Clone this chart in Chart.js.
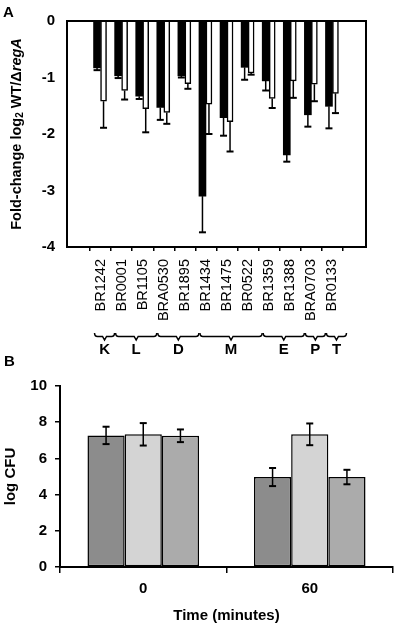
<!DOCTYPE html>
<html>
<head>
<meta charset="utf-8">
<script src="https://cdn.jsdelivr.net/npm/chart.js@4.4.1/dist/chart.umd.min.js"></script>
<style>
  body { margin: 0; background: #fff; }
  canvas { position: absolute; left: 0; }
</style>
</head>
<body>
<canvas id="chartA" width="397" height="360" style="top:0"></canvas>
<canvas id="chartB" width="397" height="281" style="top:345px"></canvas>
<script>
// Panel A - fold change per gene
var genes = ["BR1242","BR0001","BR1105","BRA0530","BR1895","BR1434","BR1475","BR0522","BR1359","BR1388","BRA0703","BR0133"];
var blackVals = [-0.83,-0.97,-1.33,-1.53,-0.97,-3.10,-1.71,-0.82,-1.06,-2.37,-1.66,-1.51];
var blackErr  = [0.04,0.04,0.05,0.22,0.03,0.64,0.32,0.22,0.17,0.12,0.21,0.39];
var whiteVals = [-1.42,-1.23,-1.55,-1.62,-1.11,-1.47,-1.78,-0.92,-1.37,-1.06,-1.12,-1.28];
var whiteErr  = [0.47,0.16,0.42,0.20,0.09,0.53,0.53,0.03,0.17,0.30,0.30,0.35];
var groupNames = ["K","L","D","M","E","P","T"];
var groupSizes = [1,2,2,3,2,1,1];

// Panel B - log CFU over time
var timeLabels = ["0","60"];
var cfuDark  = [7.27,4.97];
var errDark  = [0.48,0.50];
var cfuLight = [7.33,7.33];
var errLight = [0.62,0.60];
var cfuMid   = [7.25,4.97];
var errMid   = [0.35,0.40];

Chart.defaults.font.family = "'Liberation Sans', Arial, sans-serif";
Chart.defaults.color = "#000";

function toPoints(vals) {
	return vals.map(function(v, i) { return { x: i + 1, y: v }; });
}

// error bars, "down" only for panel A, both ways for panel B
var errorBars = {
	id: "errorBars",
	afterDatasetsDraw: function(chart) {
		var ctx = chart.ctx;
		var yScale = chart.scales.y;
		ctx.save();
		ctx.strokeStyle = "#000";
		chart.data.datasets.forEach(function(ds, di) {
			if (!ds.errors) return;
			var meta = chart.getDatasetMeta(di);
			meta.data.forEach(function(bar, i) {
				var raw = ds.data[i];
				var v = (typeof raw === "object") ? raw.y : raw;
				var e = ds.errors[i];
				var cap = ds.capWidth || 7;
				var ends = ds.errDown ? [v - e] : [v - e, v + e];
				ctx.lineWidth = 1.5;
				ctx.beginPath();
				var yLow = yScale.getPixelForValue(Math.min.apply(null, ends));
				var yHigh = ds.errDown ? bar.y : yScale.getPixelForValue(Math.max.apply(null, ends));
				ctx.moveTo(bar.x, yHigh);
				ctx.lineTo(bar.x, yLow);
				ctx.stroke();
				ctx.lineWidth = 2;
				ends.forEach(function(ev) {
					var py = yScale.getPixelForValue(ev);
					ctx.beginPath();
					ctx.moveTo(bar.x - cap / 2, py);
					ctx.lineTo(bar.x + cap / 2, py);
					ctx.stroke();
				});
			});
		});
		ctx.restore();
	}
};

// frame, y title, group braces and panel letter for A
var panelAExtras = {
	id: "panelAExtras",
	afterDraw: function(chart) {
		var ctx = chart.ctx;
		var a = chart.chartArea;
		var xs = chart.scales.x;
		ctx.save();
		ctx.strokeStyle = "#000";
		ctx.lineWidth = 2;
		ctx.strokeRect(a.left, a.top, a.right - a.left, a.bottom - a.top);

		// panel letter
		ctx.fillStyle = "#000";
		ctx.font = "bold 15px 'Liberation Sans', Arial, sans-serif";
		ctx.textAlign = "left";
		ctx.textBaseline = "middle";
		ctx.fillText("A", 3, 13);

		// y title with subscript and italic
		var parts = [
			{ t: "Fold-change log", f: "bold 14.5px", dy: 0 },
			{ t: "2", f: "bold 10px", dy: 3 },
			{ t: " WT/\u0394", f: "bold 14.5px", dy: 0 },
			{ t: "regA", f: "italic bold 14.5px", dy: 0 }
		];
		var fam = " 'Liberation Sans', Arial, sans-serif";
		var total = 0;
		parts.forEach(function(p) { ctx.font = p.f + fam; p.w = ctx.measureText(p.t).width; total += p.w; });
		ctx.translate(17, (a.top + a.bottom) / 2);
		ctx.rotate(-Math.PI / 2);
		var cx = -total / 2;
		parts.forEach(function(p) {
			ctx.font = p.f + fam;
			ctx.fillText(p.t, cx, p.dy);
			cx += p.w;
		});
		ctx.setTransform(1, 0, 0, 1, 0, 0);

		// group braces
		ctx.lineWidth = 1.5;
		ctx.font = "bold 15px 'Liberation Sans', Arial, sans-serif";
		ctx.textAlign = "center";
		var start = 0;
		groupNames.forEach(function(name, g) {
			var first = start, last = start + groupSizes[g] - 1;
			start += groupSizes[g];
			var x1 = xs.getPixelForValue(first + 1) - 6;
			var x2 = xs.getPixelForValue(last + 1) + 14;
			var mid = (x1 + x2) / 2;
			var yTop = 333, yLine = 336.5, yTip = 340;
			ctx.beginPath();
			ctx.moveTo(x1, yTop);
			ctx.quadraticCurveTo(x1, yLine, x1 + 3, yLine);
			ctx.lineTo(mid - 2, yLine);
			ctx.lineTo(mid, yTip);
			ctx.lineTo(mid + 2, yLine);
			ctx.lineTo(x2 - 3, yLine);
			ctx.quadraticCurveTo(x2, yLine, x2, yTop);
			ctx.stroke();
			ctx.fillText(name, mid, 350);
		});
		ctx.restore();
	}
};

var panelBExtras = {
	id: "panelBExtras",
	afterDraw: function(chart) {
		var ctx = chart.ctx;
		ctx.save();
		ctx.fillStyle = "#000";
		ctx.font = "bold 15px 'Liberation Sans', Arial, sans-serif";
		ctx.textAlign = "left";
		ctx.textBaseline = "middle";
		ctx.fillText("B", 4, 17);
		ctx.restore();
	}
};

var chartA = new Chart(document.getElementById("chartA"), {
	type: "bar",
	data: {
		datasets: [
			{
				label: "black",
				data: toPoints(blackVals),
				errors: blackErr,
				errDown: true,
				backgroundColor: "#000",
				borderWidth: 0,
				barThickness: 7
			},
			{
				label: "white",
				data: toPoints(whiteVals),
				errors: whiteErr,
				errDown: true,
				backgroundColor: "#fff",
				borderColor: "#000",
				borderWidth: 1.5,
				barThickness: 6
			}
		]
	},
	options: {
		responsive: false,
		animation: false,
		layout: { padding: { top: 10, right: 31, left: 0, bottom: 0 } },
		plugins: { legend: { display: false }, tooltip: { enabled: false } },
		scales: {
			x: {
				type: "linear",
				min: 0,
				max: 13,
				afterBuildTicks: function(s) {
					s.ticks = s.ticks.filter(function(t) { return t.value >= 1 && t.value <= 12; });
				},
				afterFit: function(s) {
					s.height = 113;
					s.paddingLeft = 0;
					s.paddingRight = 0;
				},
				ticks: {
					stepSize: 1,
					autoSkip: false,
					minRotation: 90,
					maxRotation: 90,
					padding: 8,
					font: { size: 14.5 },
					callback: function(v) { return genes[v - 1] || ""; }
				},
				grid: { display: true, drawOnChartArea: false, tickLength: 4, color: "#000", lineWidth: 1.5 },
				border: { display: true, color: "#000", width: 2 }
			},
			y: {
				min: -4,
				max: 0,
				afterFit: function(s) { s.width = 67; },
				ticks: { stepSize: 1, padding: 12, font: { size: 15, weight: "bold" } },
				grid: { display: false, drawTicks: false },
				border: { display: true, color: "#000", width: 2 }
			}
		}
	},
	plugins: [errorBars, panelAExtras]
});

var chartB = new Chart(document.getElementById("chartB"), {
	type: "bar",
	data: {
		labels: timeLabels,
		datasets: [
			{ label: "dark", data: cfuDark, errors: errDark, backgroundColor: "#8c8c8c" },
			{ label: "light", data: cfuLight, errors: errLight, backgroundColor: "#d4d4d4" },
			{ label: "mid", data: cfuMid, errors: errMid, backgroundColor: "#ababab" }
		]
	},
	options: {
		responsive: false,
		animation: false,
		layout: { padding: { top: 41, right: 4, left: 0, bottom: 0 } },
		datasets: {
			bar: { borderColor: "#000", borderWidth: 1.5, borderSkipped: false, categoryPercentage: 0.67, barPercentage: 1 }
		},
		plugins: { legend: { display: false }, tooltip: { enabled: false } },
		scales: {
			x: {
				afterFit: function(s) { s.height = 59; },
				ticks: { padding: 7, font: { size: 15, weight: "bold" } },
				grid: { display: true, offset: true, drawOnChartArea: false, tickLength: 6, color: "#000", lineWidth: 1.5 },
				border: { display: true, color: "#000", width: 2 },
				title: { display: true, text: "Time (minutes)", font: { size: 15, weight: "bold" }, padding: { top: 0, bottom: 1 } }
			},
			y: {
				min: 0,
				max: 10,
				afterFit: function(s) { s.width = 60; },
				ticks: { stepSize: 2, padding: 8, font: { size: 15, weight: "bold" } },
				grid: { display: true, drawOnChartArea: false, tickLength: 5, color: "#000", lineWidth: 1.5 },
				border: { display: true, color: "#000", width: 2 },
				title: { display: true, text: "log CFU", font: { size: 15, weight: "bold" }, padding: { top: 2, bottom: 0 } }
			}
		}
	},
	plugins: [errorBars, panelBExtras]
});
</script>
</body>
</html>
